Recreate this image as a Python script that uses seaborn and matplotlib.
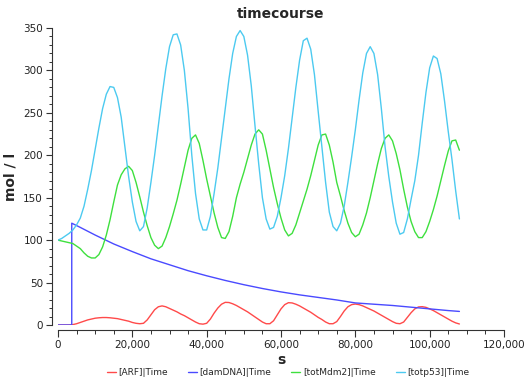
import numpy as np
import seaborn as sns
from matplotlib import pyplot as plt
from matplotlib.ticker import MultipleLocator, StrMethodFormatter

# time grid in seconds (0 .. 108000, 1000 s apart)
time_s = np.arange(0, 108001, 1000)

totp53 = [100, 102, 105, 108, 112, 118, 126, 140, 160, 182,
          207, 232, 255, 272, 281, 280, 268, 245, 210, 175,
          145, 122, 111, 116, 138, 168, 200, 235, 270, 302,
          328, 342, 343, 330, 300, 255, 200, 155, 125, 112,
          112, 128, 155, 185, 220, 255, 290, 320, 340, 347,
          340, 318, 282, 235, 190, 150, 125, 113, 115, 128,
          150, 176, 208, 244, 280, 312, 335, 338, 325, 295,
          252, 210, 168, 133, 116, 111, 120, 140, 168, 198,
          230, 265, 297, 320, 328, 320, 295, 255, 210, 175,
          145, 120, 107, 109, 125, 148, 170, 200, 238, 274,
          303, 317, 314, 296, 264, 228, 195, 158, 125]

totMdm2 = [100, 99, 98, 97, 96, 93, 90, 85, 81, 79,
           79, 83, 92, 106, 124, 145, 165, 177, 184, 187,
           182, 168, 151, 133, 117, 103, 94, 90, 93, 103,
           116, 131, 147, 166, 186, 206, 220, 224, 214, 194,
           172, 152, 132, 115, 103, 102, 110, 128, 150, 166,
           180, 196, 212, 225, 230, 225, 206, 184, 162, 143,
           126, 112, 105, 108, 118, 132, 146, 160, 176, 194,
           212, 224, 225, 212, 192, 168, 152, 135, 120, 109,
           104, 107, 118, 132, 150, 170, 190, 208, 220, 224,
           217, 202, 183, 160, 139, 122, 110, 103, 103, 110,
           122, 136, 152, 170, 188, 205, 217, 218, 206]

arf = [0, 0, 0, 0, 0.5, 1.5, 3, 4.5, 6, 7,
       8, 8.5, 8.8, 8.8, 8.5, 8, 7.5, 6.5, 5.5, 4.5,
       3, 2, 1.5, 2, 6, 12, 18, 21.5, 22.5, 21.5,
       19.5, 17.5, 15.5, 13, 11, 8.5, 6, 3.5, 1.5, 1,
       2, 7, 14, 20, 24.5, 26.7, 26.5, 25, 23, 20.5,
       18, 15.5, 12.5, 9.5, 6.5, 3.5, 1.5, 1.5, 5, 12,
       19, 24, 26.3, 26, 24.5, 22.5, 20, 17.5, 15, 12,
       9, 6.5, 3.5, 1.5, 1.5, 4, 10, 16.5, 21.5, 24,
       24.7, 24, 22.5, 20.5, 18.5, 16.5, 14, 11.5, 9, 6.5,
       4, 2, 1.5, 3.5, 9, 14.5, 19, 21.3, 21.6, 20.8,
       19, 17, 14.5, 12, 9.5, 7, 4.5, 2.5, 1.2]

# damaged DNA switches on at ~3700 s
dna_time = [0, 3700, 3700, 6000, 10000, 15000, 20000, 25000, 30000, 35000,
            40000, 45000, 50000, 55000, 60000, 65000, 70000, 75000, 80000,
            85000, 90000, 95000, 100000, 105000, 108000]
damDNA = [0, 0, 120, 115, 106, 95.5, 86.5, 78, 71, 64,
          58, 52.5, 47.5, 43, 39, 35.5, 32.5, 29.5, 26,
          24.5, 23, 21, 19, 17, 16]

sns.set_theme(style="ticks")
plt.rcParams['font.family'] = ['DejaVu Sans']

fig = plt.figure(figsize=(5.24, 3.83), dpi=100)
ax = fig.add_axes([58 / 524, 58 / 383, 446 / 524, 297 / 383])

lw = 1.0
sns.lineplot(x=time_s, y=arf, ax=ax, color="#ff4a4a", lw=lw,
             estimator=None, sort=False, label="[ARF]|Time")
sns.lineplot(x=dna_time, y=damDNA, ax=ax, color="#4a4aff", lw=lw,
             estimator=None, sort=False, label="[damDNA]|Time")
sns.lineplot(x=time_s, y=totMdm2, ax=ax, color="#3ee03e", lw=lw,
             estimator=None, sort=False, label="[totMdm2]|Time")
sns.lineplot(x=time_s, y=totp53, ax=ax, color="#4ccaf0", lw=lw,
             estimator=None, sort=False, label="[totp53]|Time")

ax.set_xlim(0, 120000)
ax.set_ylim(0, 350)
ax.xaxis.set_major_locator(MultipleLocator(20000))
ax.xaxis.set_minor_locator(MultipleLocator(5000))
ax.yaxis.set_major_locator(MultipleLocator(50))
ax.yaxis.set_minor_locator(MultipleLocator(10))
ax.xaxis.set_major_formatter(StrMethodFormatter("{x:,.0f}"))

for side in ["top", "right"]:
    ax.spines[side].set_visible(False)
ax.spines["left"].set_position(("outward", 4.3))
ax.spines["bottom"].set_position(("outward", 3.6))
for side in ["left", "bottom"]:
    ax.spines[side].set_color("#333333")
    ax.spines[side].set_linewidth(0.8)

ax.tick_params(axis="both", which="major", labelsize=7.5, colors="#333333",
               labelcolor="#222222", width=0.8, pad=2.5)
ax.tick_params(axis="y", which="major", length=4)
ax.tick_params(axis="y", which="minor", length=2.5, width=0.7, colors="#333333")
ax.tick_params(axis="x", which="major", length=5)
ax.tick_params(axis="x", which="minor", length=3, width=0.7, colors="#333333")

ax.set_title("timecourse", fontsize=10, fontweight="bold", pad=7)
ax.set_xlabel("s", fontsize=10, fontweight="bold", labelpad=2)
ax.set_ylabel("mol / l", fontsize=10, fontweight="bold", labelpad=4)

ax.get_legend().remove()
handles, labels = ax.get_legend_handles_labels()
fig.legend(handles, labels, loc="lower center", bbox_to_anchor=(0.55, -0.005),
           ncol=4, frameon=False, fontsize=6.5, handlelength=1.0,
           handletextpad=0.3, columnspacing=2.2)

fig.savefig("out.png", dpi=100)
